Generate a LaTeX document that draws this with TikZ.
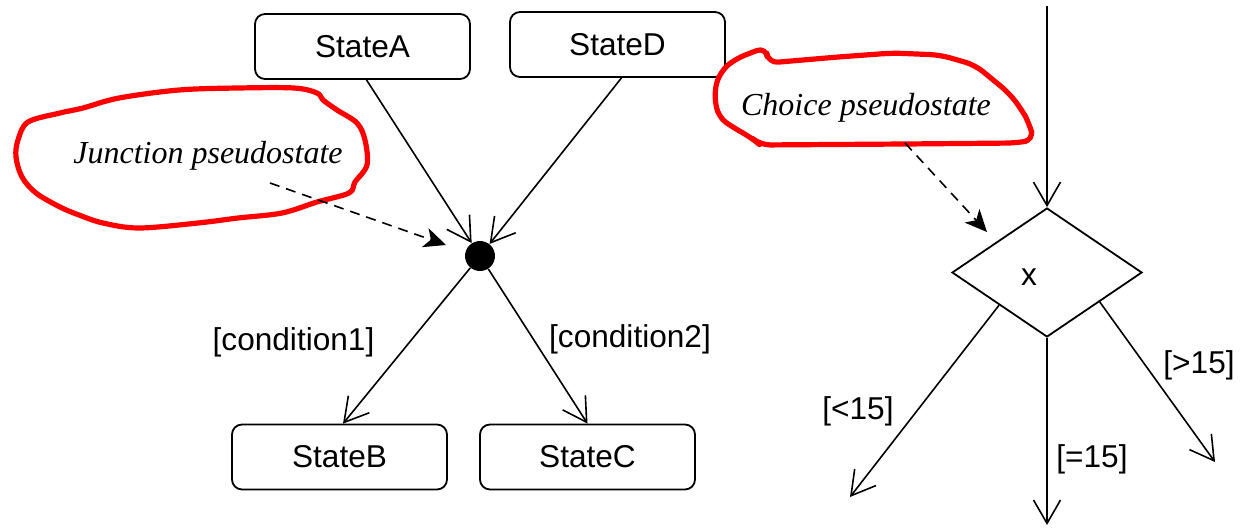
\documentclass[tikz,border=0pt]{standalone}
\usepackage{fontspec}
\setmainfont{Liberation Serif}
\setsansfont{Liberation Sans}
\usetikzlibrary{arrows.meta,shapes.geometric,calc}

\begin{document}
\begin{tikzpicture}[x=0.5pt,y=-0.5pt,
  labelfont/.style={font=\sffamily\fontsize{15.8}{18}\selectfont},
  state/.style={draw,line width=0.9pt,rounded corners=5pt,minimum width=107.5pt,
                minimum height=32.5pt,inner sep=0pt,labelfont},
  guard/.style={inner sep=0pt,labelfont},
  trans/.style={line width=0.8pt,-{Straight Barb[length=11.7pt,width=13.5pt,line width=0.8pt]}},
  note/.style={inner sep=0pt,font=\itshape\fontsize{16}{19}\selectfont},
  pointer/.style={line width=0.8pt,dash pattern=on 5pt off 3.5pt,
                  -{Stealth[length=11pt,width=10pt,inset=3pt]}},
  cloud/.style={draw=red,line width=2.6pt,line join=round}]
\useasboundingbox (0,0) rectangle (1240,530);

% junction side
\node[state] (A) at (362.5,46.5) {StateA};
\node[state] (D) at (617.5,44.5) {StateD};
\node[state] (B) at (339.5,457) {StateB};
\node[state] (C) at (587.5,457) {StateC};
\node[circle,fill=black,inner sep=0pt,minimum size=15pt] (J) at (480,256) {};

\draw[trans] ([xshift=2pt]A.south) -- (J);
\draw[trans] ([xshift=2pt]D.south) -- (J);
\draw[trans] (J) -- ([xshift=1.75pt]B.north);
\draw[trans] (J) -- (C.north);

\node[guard] (g1) at (293.5,342) {[condition1]};
\node[guard] (g2) at (630,339) {[condition2]};

% junction note
\draw[cloud] plot[smooth cycle,tension=0.55] coordinates {
  (28,122) (18,140) (16,157) (22,177) (36,193) (60,207) (79,215) (103,223)
  (139,228) (198,223) (238,218) (282,213) (317,202) (349,193) (355,182)
  (367,165) (365,140) (357,123) (337,110) (323,100) (317,93) (294,88)
  (238,88) (179,90) (119,98) (83,108) (60,113)};
\node[note] (jt) at (208,156) {Junction pseudostate};
\coordinate (jp) at (270,183);
\coordinate (jq) at (446,245);
\draw[pointer] (jp) -- (jq);

% choice side
\node[diamond,draw,line width=0.9pt,inner sep=0pt,minimum width=95pt,minimum height=64.5pt] (ch) at (1047,272.5) {};
\node[guard] (xv) at (1029,277) {x};
\coordinate (top) at (1047,6);
\coordinate (lo) at (850,497);
\coordinate (mid) at (1047,525);
\coordinate (hi) at (1215,462);
\draw[trans] (top) -- (ch.north);
\draw[trans] ($(ch.west)!0.5!(ch.south)$) -- (lo);
\draw[trans] (ch.south) -- (mid);
\draw[trans] ($(ch.south)!0.55!(ch.east)$) -- (hi);

\node[guard] (lt) at (858,411) {[<15]};
\node[guard] (eq) at (1092,459) {[=15]};
\node[guard] (gt) at (1199,365) {[>15]};

% choice note
\draw[cloud,rounded corners=5pt] (718,117) -- (714,92) -- (720,72) -- (735,59)
  -- (766,47) -- (768,63) -- (838,57) -- (893,53) -- (940,55) -- (975,65)
  -- (992,79) -- (1009,93) -- (1022,110) -- (1029,123) -- (1034,140)
  -- (1016,143) -- (905,144) -- (760,145) -- (752,138) -- (734,128) -- cycle;
\node[note] (ct) at (866,108) {Choice pseudostate};
\coordinate (cp) at (905,143);
\coordinate (cq) at (987,232);
\draw[pointer] (cp) -- (cq);
\end{tikzpicture}
\end{document}
